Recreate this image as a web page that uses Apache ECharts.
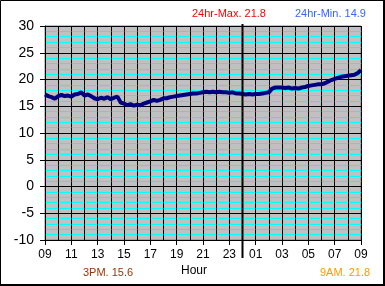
<!DOCTYPE html>
<html><head><meta charset="utf-8">
<script src="https://cdn.jsdelivr.net/npm/echarts@6/dist/echarts.min.js"></script>
<style>html,body{margin:0;padding:0;background:#fff}#c{width:385px;height:286px}</style>
</head><body><div id="c"></div>
<script>
// Hour tick labels along x (every 2 hours from 09 to 09 next day)
const hourLabels = ['09','11','13','15','17','19','21','23','01','03','05','07','09'];
const yTicks = [-10,-5,0,5,10,15,20,25,30];
// temperature readings every 15 minutes starting 09:00
const sampleStepHours = 0.25;
const temps = [
 17.2,16.9,16.7,16.4,16.9,17.1,16.9,17.0,16.8,17.2,17.3,17.6,
 17.0,17.2,16.9,16.5,16.3,16.6,16.4,16.7,16.3,16.6,16.8,15.7,
 15.5,15.2,15.4,15.1,15.3,15.2,15.5,15.7,15.9,16.2,16.0,16.2,
 16.5,16.5,16.7,16.8,16.9,17.0,17.1,17.2,17.3,17.4,17.4,17.5,
 17.6,17.7,17.6,17.7,17.6,17.7,17.6,17.6,17.5,17.6,17.4,17.4,
 17.3,17.2,17.3,17.2,17.3,17.3,17.4,17.5,17.6,18.3,18.5,18.5,
 18.5,18.4,18.5,18.3,18.4,18.3,18.5,18.6,18.8,18.9,19.0,19.1,
 19.1,19.3,19.6,19.9,20.1,20.3,20.5,20.6,20.7,20.8,20.9,21.2,
 21.8
];
const midnightHour = 15;
const maxText = '24hr-Max. 21.8';
const minText = '24hr-Min. 14.9';
const pmText = '3PM. 15.6';
const amText = '9AM. 21.8';
const xName = 'Hour';

const seriesData = temps.map((v,i)=>[i*sampleStepHours, v]);
const font = 'Liberation Sans, Arial, sans-serif';
const chart = echarts.init(document.getElementById('c'), null, {renderer:'canvas'});
chart.setOption({
  animation:false,
  backgroundColor:'#ffffff',
  grid:{left:45,right:24,top:26,bottom:46,show:true,backgroundColor:'#c0c0c0',borderColor:'#808080',borderWidth:1},
  xAxis:{type:'value',min:0,max:24,interval:2,
    axisLine:{show:true,onZero:false,lineStyle:{color:'#000',width:1}},
    axisTick:{show:true,length:5,lineStyle:{color:'#000'}},
    axisLabel:{color:'#000',fontFamily:font,fontSize:12,margin:9,
      formatter:(v)=>hourLabels[Math.round(v/2)]},
    splitLine:{show:true,lineStyle:{color:'#000',width:1}},
    minorTick:{show:false,splitNumber:2},
    minorSplitLine:{show:true,lineStyle:{color:'#000',width:1}}
  },
  yAxis:{type:'value',min:yTicks[0],max:yTicks[yTicks.length-1],interval:5,
    axisLine:{show:true,onZero:false,lineStyle:{color:'#000',width:1}},
    axisTick:{show:true,length:5,lineStyle:{color:'#000'}},
    axisLabel:{color:'#000',fontFamily:font,fontSize:14,margin:11},
    splitLine:{show:true,lineStyle:{color:'#000',width:1}},
    minorTick:{show:false,splitNumber:5},
    minorSplitLine:{show:true,lineStyle:{color:'#00ffff',width:1}}
  },
  series:[{type:'line',data:seriesData,showSymbol:false,symbol:'none',
    lineStyle:{color:'#000080',width:4},z:5}]
});
const xm = chart.convertToPixel({xAxisIndex:0}, midnightHour);
const y0 = chart.convertToPixel({yAxisIndex:0}, yTicks[0]);
const y1 = chart.convertToPixel({yAxisIndex:0}, yTicks[yTicks.length-1]);
chart.setOption({graphic:[
  {type:'line',shape:{x1:xm,y1:y1-2,x2:xm,y2:y0+18},style:{stroke:'#000',lineWidth:2},z:10},
  {type:'text',left:192,top:8,style:{text:maxText,fill:'#ff0000',font:'11px '+font}},
  {type:'text',left:295,top:8,style:{text:minText,fill:'#3366ff',font:'11px '+font}},
  {type:'text',left:83,top:267,style:{text:pmText,fill:'#993300',font:'11px '+font}},
  {type:'text',left:181,top:265,style:{text:xName,fill:'#000',font:'12px '+font}},
  {type:'text',left:320,top:267,style:{text:amText,fill:'#ff9900',font:'11px '+font}},
  {type:'rect',shape:{x:0.5,y:0.5,width:384,height:285},style:{fill:'none',stroke:'#000',lineWidth:1},z:20},
  {type:'rect',shape:{x:383,y:0,width:2,height:286},style:{fill:'#000'},z:20},
  {type:'rect',shape:{x:0,y:284,width:385,height:2},style:{fill:'#000'},z:20}
]});
</script></body></html>
